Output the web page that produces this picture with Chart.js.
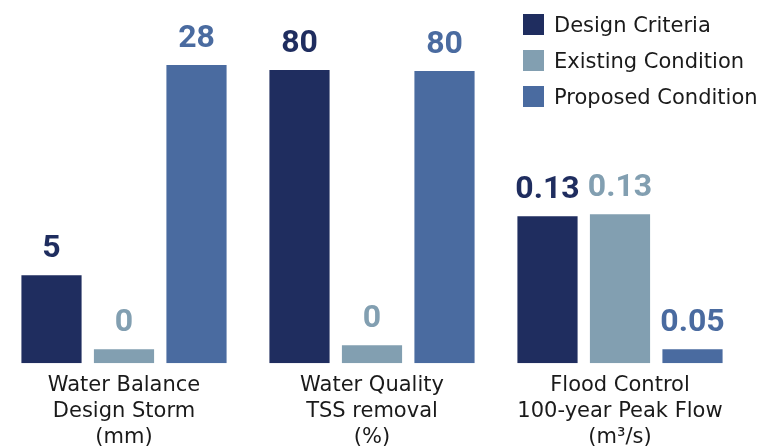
<!DOCTYPE html>
<html lang="en">
<head>
  <meta charset="utf-8">
  <title>Stormwater criteria</title>
  <script src="https://cdn.jsdelivr.net/npm/chart.js"></script>
  <style>
    html, body { margin: 0; padding: 0; background: #fff; overflow: hidden; }
    .wrap { position: relative; width: 761px; height: 448px; overflow: hidden; }
    #legend { position: absolute; left: 523px; top: 14px; font-family: "DejaVu Sans", sans-serif; font-size: 21px; color: #1a1a1a; }
    #legend div { display: flex; align-items: center; height: 21px; margin-bottom: 15px; white-space: nowrap; }
    #legend .box { width: 21px; height: 21px; margin-right: 10px; }
  </style>
</head>
<body>
  <div class="wrap">
    <canvas id="chart" width="761" height="452"></canvas>
    <div id="legend"></div>
  </div>

  <script>
    // categories (multi-line tick labels)
    const categories = [
      ['Water Balance', 'Design Storm', '(mm)'],
      ['Water Quality', 'TSS removal', '(%)'],
      ['Flood Control', '100-year Peak Flow', '(m³/s)']
    ];
    const seriesNames = ['Design Criteria', 'Existing Condition', 'Proposed Condition'];

    // values printed above the bars
    const designValues = ['5', '80', '0.13'];
    const existingValues = ['0', '0', '0.13'];
    const proposedValues = ['28', '80', '0.05'];

    // bar heights as drawn in the graphic (each group is on its own, not-to-scale axis)
    const designHeights = [88, 293, 147];
    const existingHeights = [14, 18, 149];
    const proposedHeights = [298, 292, 14];

    const colors = ['#1f2d5f', '#829fb1', '#4a6ba0'];
    const textFont = '"DejaVu Sans", sans-serif';

    const valueLabels = [designValues, existingValues, proposedValues];
    const heights = [designHeights, existingHeights, proposedHeights];

    // draws the numbers above each bar
    const valueLabelPlugin = {
      id: 'valueLabels',
      afterDatasetsDraw(chart) {
        const ctx = chart.ctx;
        ctx.save();
        ctx.font = 'bold 32px Roboto, sans-serif';
        ctx.textAlign = 'center';
        ctx.textBaseline = 'alphabetic';
        chart.data.datasets.forEach((ds, i) => {
          chart.getDatasetMeta(i).data.forEach((bar, j) => {
            ctx.fillStyle = colors[i];
            ctx.fillText(valueLabels[i][j], bar.x, bar.y - 18);
          });
        });
        ctx.restore();
      }
    };

    const chart = new Chart(document.getElementById('chart'), {
      type: 'bar',
      data: {
        labels: categories,
        datasets: seriesNames.map((name, i) => ({
          label: name,
          data: heights[i],
          backgroundColor: colors[i],
          categoryPercentage: 0.877,
          barPercentage: 0.83
        }))
      },
      options: {
        responsive: false,
        animation: false,
        layout: { padding: { left: 0, right: 17, top: 0, bottom: 0 } },
        plugins: {
          legend: { display: false },
          tooltip: { enabled: false }
        },
        scales: {
          x: {
            grid: { display: false },
            border: { display: false },
            ticks: {
              autoSkip: false,
              maxRotation: 0,
              padding: 1,
              color: '#1a1a1a',
              font: { family: textFont, size: 21, lineHeight: 1.25 }
            }
          },
          y: { display: false, min: 0, max: 363 }
        }
      },
      plugins: [valueLabelPlugin]
    });

    // legend built from the datasets
    const legend = document.getElementById('legend');
    chart.data.datasets.forEach(ds => {
      const row = document.createElement('div');
      const box = document.createElement('span');
      box.className = 'box';
      box.style.background = ds.backgroundColor;
      row.appendChild(box);
      row.appendChild(document.createTextNode(ds.label));
      legend.appendChild(row);
    });
  </script>
</body>
</html>
